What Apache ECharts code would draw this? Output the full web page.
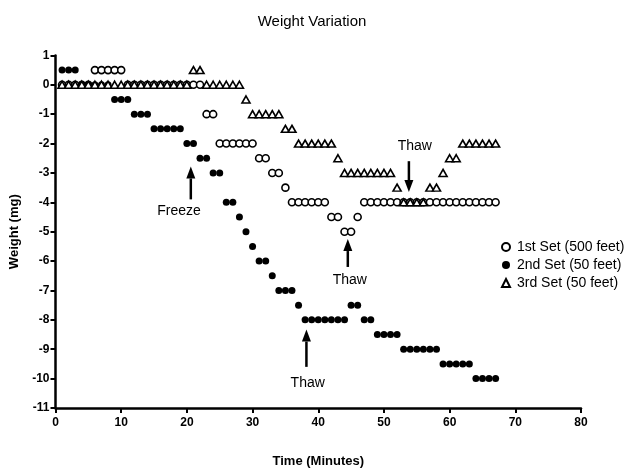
<!DOCTYPE html>
<html><head><meta charset="utf-8">
<script src="https://cdn.jsdelivr.net/npm/echarts@6/dist/echarts.min.js"></script>
<style>html,body{margin:0;padding:0;background:#fff}#c{width:624px;height:473px}</style>
</head><body><div id="c"></div>
<script>
// ---- data (minutes 1..67) ----
const minutes = [1,2,3,4,5,6,7,8,9,10,11,12,13,14,15,16,17,18,19,20,21,22,23,24,25,26,27,28,29,30,31,32,33,34,35,36,37,38,39,40,41,42,43,44,45,46,47,48,49,50,51,52,53,54,55,56,57,58,59,60,61,62,63,64,65,66,67];
const set1 = [0,0,0,0,0, 0.5,0.5,0.5,0.5,0.5, 0,0,0,0,0,0,0,0,0,0,0,0, -1,-1, -2,-2,-2,-2,-2,-2, -2.5,-2.5, -3,-3, -3.5, -4,-4,-4,-4,-4,-4, -4.5,-4.5, -5,-5, -4.5, -4,-4,-4,-4,-4,-4,-4,-4,-4,-4,-4,-4,-4,-4,-4,-4,-4,-4,-4,-4,-4];
const set2 = [0.5,0.5,0.5, 0,0,0,0,0, -0.5,-0.5,-0.5, -1,-1,-1, -1.5,-1.5,-1.5,-1.5,-1.5, -2,-2, -2.5,-2.5, -3,-3, -4,-4, -4.5, -5, -5.5, -6,-6, -6.5, -7,-7,-7, -7.5, -8,-8,-8,-8,-8,-8,-8, -7.5,-7.5, -8,-8, -8.5,-8.5,-8.5,-8.5, -9,-9,-9,-9,-9,-9, -9.5,-9.5,-9.5,-9.5,-9.5, -10,-10,-10,-10];
const set3 = [0,0,0,0,0,0,0,0,0,0,0,0,0,0,0,0,0,0,0,0, 0.5,0.5, 0,0,0,0,0,0, -0.5, -1,-1,-1,-1,-1, -1.5,-1.5, -2,-2,-2,-2,-2,-2, -2.5, -3,-3,-3,-3,-3,-3,-3,-3, -3.5, -4,-4,-4,-4, -3.5,-3.5, -3, -2.5,-2.5, -2,-2,-2,-2,-2,-2];
const seriesNames = ['1st Set (500 feet)', '2nd Set (50 feet)', '3rd Set (50 feet)'];
const xTicks = [0,10,20,30,40,50,60,70,80];
const yTicks = [1,0,-1,-2,-3,-4,-5,-6,-7,-8,-9,-10,-11];
// annotations: label, arrow tail [min, mg], arrow head [min, mg], text position [min, mg]
const annLabels = ['Freeze', 'Thaw', 'Thaw', 'Thaw'];
const annTail = [[20.6,-3.9],[38.2,-9.6],[44.5,-6.2],[53.8,-2.6]];
const annHead = [[20.6,-2.78],[38.2,-8.33],[44.5,-5.25],[53.8,-3.65]];
const annText = [[18.8,-4.3],[38.4,-10.15],[44.8,-6.65],[54.7,-2.08]];

const FONT = '"Liberation Sans", Arial, sans-serif';
const chart = echarts.init(document.getElementById('c'), null, {renderer:'canvas'});
const pairs = s => minutes.map((m,i)=>[m, s[i]]);

chart.setOption({
  animation:false,
  backgroundColor:'#fff',
  title:{text:'Weight Variation', left:'center', top:9,
    textStyle:{fontFamily:FONT, fontSize:15, fontWeight:'normal', color:'#000'}},
  grid:{left:55.5, right:43, top:55.4, bottom:62.4},
  legend:{
    orient:'vertical', left:496, top:235, itemWidth:8, itemHeight:8, itemGap:4,
    textStyle:{fontFamily:FONT, fontSize:14, color:'#000', padding:[0,0,0,2]},
    data:seriesNames
  },
  xAxis:{
    type:'value', min:xTicks[0], max:xTicks[xTicks.length-1], interval:10,
    name:'Time (Minutes)', nameLocation:'middle', nameGap:47,
    nameTextStyle:{fontFamily:FONT, fontSize:13, fontWeight:'bold', color:'#000'},
    axisLine:{onZero:false, lineStyle:{color:'#000', width:2.5}},
    axisTick:{length:5, lineStyle:{color:'#000', width:2}},
    axisLabel:{fontFamily:FONT, fontSize:12, fontWeight:'bold', color:'#000', margin:9},
    splitLine:{show:false}
  },
  yAxis:{
    type:'value', min:yTicks[yTicks.length-1], max:yTicks[0], interval:1,
    name:'Weight (mg)', nameLocation:'middle', nameGap:33,
    nameTextStyle:{fontFamily:FONT, fontSize:13, fontWeight:'bold', color:'#000'},
    axisLine:{onZero:false, lineStyle:{color:'#000', width:2.5}},
    axisTick:{length:5, lineStyle:{color:'#000', width:2}},
    axisLabel:{fontFamily:FONT, fontSize:12, fontWeight:'bold', color:'#000', margin:6},
    splitLine:{show:false}
  },
  series:[
    {name:seriesNames[0], type:'scatter', data:pairs(set1), symbol:'circle', symbolSize:7, z:2,
      itemStyle:{color:'#fff', borderColor:'#000', borderWidth:1.6, opacity:1}},
    {name:seriesNames[1], type:'scatter', data:pairs(set2), symbol:'circle', symbolSize:7, z:3,
      itemStyle:{color:'#000', borderColor:'#000', borderWidth:0, opacity:1}},
    {name:seriesNames[2], type:'scatter', data:pairs(set3), symbol:'triangle', symbolSize:[8,7], z:4,
      itemStyle:{color:'#fff', borderColor:'#000', borderWidth:1.6, opacity:1}}
  ]
});

// draw annotation arrows and texts from data coordinates
const g = [];
annLabels.forEach((lab,i)=>{
  const t = chart.convertToPixel({gridIndex:0}, annTail[i]);
  const h = chart.convertToPixel({gridIndex:0}, annHead[i]);
  const p = chart.convertToPixel({gridIndex:0}, annText[i]);
  const dx = h[0]-t[0], dy = h[1]-t[1];
  const len = Math.sqrt(dx*dx+dy*dy), ux = dx/len, uy = dy/len;
  const hl = 12, hw = 4.5;
  const bx = h[0]-ux*hl, by = h[1]-uy*hl;
  g.push({type:'line', shape:{x1:t[0], y1:t[1], x2:bx, y2:by}, style:{stroke:'#000', lineWidth:2.5}});
  g.push({type:'polygon', shape:{points:[[h[0],h[1]],[bx-uy*hw, by+ux*hw],[bx+uy*hw, by-ux*hw]]}, style:{fill:'#000'}});
  g.push({type:'text', x:p[0], y:p[1], style:{text:lab, fontFamily:FONT, fontSize:14, fill:'#000', align:'center', verticalAlign:'middle'}});
});
chart.setOption({graphic:g});
</script></body></html>
